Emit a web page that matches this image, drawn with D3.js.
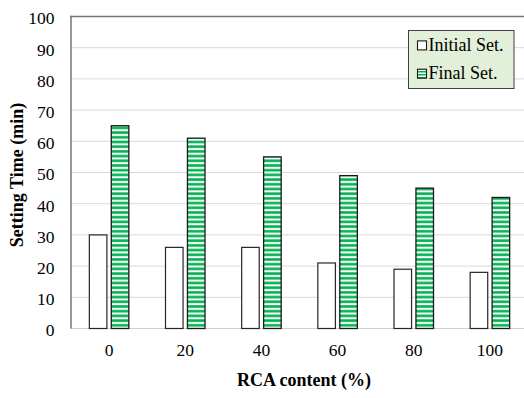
<!DOCTYPE html>
<html><head><meta charset="utf-8">
<script src="https://cdn.jsdelivr.net/npm/d3@7"></script>
<style>html,body{margin:0;padding:0;background:#fff;overflow:hidden}</style>
</head><body>
<svg id="c" width="524" height="398"></svg>
<script>
const categories = ["0","20","40","60","80","100"];
const initialSet = [30,26,26,21,19,18];
const finalSet = [65,61,55,49,45,42];
const yTicks = [0,10,20,30,40,50,60,70,80,90,100];
const seriesNames = ["Initial Set.","Final Set."];

const svg = d3.select("#c");
const L = 71, R = 528, T = 16.5, B = 328.5;
const font = "Liberation Serif, Times New Roman, serif";

const defs = svg.append("defs");
const pat = defs.append("pattern").attr("id","stripe").attr("patternUnits","userSpaceOnUse")
  .attr("width",8).attr("height",4.7).attr("y",B);
pat.append("rect").attr("width",8).attr("height",4.7).attr("fill","#ffffff");
pat.append("rect").attr("width",8).attr("y",0).attr("height",3).attr("fill","#7fd8a5");
pat.append("rect").attr("width",8).attr("y",0.4).attr("height",2.2).attr("fill","#00b050");
const patL = defs.append("pattern").attr("id","stripeL").attr("patternUnits","userSpaceOnUse")
  .attr("width",8).attr("height",3).attr("y",41);
patL.append("rect").attr("width",8).attr("height",3).attr("fill","#ffffff");
patL.append("rect").attr("width",8).attr("height",1.5).attr("fill","#00b050");

const x = d3.scaleBand().domain(categories).range([L,R]).padding(0);
const gw = 39.5;
const xs = d3.scaleBand().domain(seriesNames)
  .range([(x.bandwidth()-gw)/2,(x.bandwidth()+gw)/2]).paddingInner(0.2);
const y = d3.scaleLinear().domain([0,100]).range([B,T]);

// gridlines
svg.append("g").selectAll("line").data(yTicks.filter(d=>d>0 && d<100)).join("line")
  .attr("x1",L).attr("x2",524).attr("y1",d=>y(d)).attr("y2",d=>y(d))
  .attr("stroke","#d9d9d9").attr("stroke-width",1);
// bottom line
svg.append("line").attr("x1",L).attr("x2",524).attr("y1",y(0)).attr("y2",y(0))
  .attr("stroke","#d0d0d0").attr("stroke-width",1.2);
// top border
svg.append("line").attr("x1",L-1).attr("x2",524).attr("y1",y(100)).attr("y2",y(100))
  .attr("stroke","#767676").attr("stroke-width",1.5);

// bars
const data = categories.map((c,i)=>({c, vals:[initialSet[i], finalSet[i]]}));
const g = svg.append("g");
data.forEach(d=>{
  g.append("rect").attr("x",x(d.c)+xs(seriesNames[0])).attr("width",xs.bandwidth())
    .attr("y",y(d.vals[0])).attr("height",y(0)-y(d.vals[0]))
    .attr("fill","#fff").attr("stroke","#262626").attr("stroke-width",1.2);
  g.append("rect").attr("x",x(d.c)+xs(seriesNames[1])).attr("width",xs.bandwidth())
    .attr("y",y(d.vals[1])).attr("height",y(0)-y(d.vals[1]))
    .attr("fill","url(#stripe)").attr("stroke","#1a1a1a").attr("stroke-width",1.3);
});

// left axis line
svg.append("line").attr("x1",L).attr("x2",L).attr("y1",T-0.7).attr("y2",B)
  .attr("stroke","#767676").attr("stroke-width",1.5);

// y axis labels
const ya = svg.append("g").attr("transform",`translate(${L},0)`)
  .call(d3.axisLeft(y).tickValues(yTicks).tickSize(0).tickPadding(16.5));
ya.select(".domain").remove();
ya.attr("font-family",font).attr("font-size",17.5);
ya.selectAll("text").attr("fill","#000").attr("dy","0.42em");

// x axis labels
const xa = svg.append("g").attr("transform",`translate(0,${B})`)
  .call(d3.axisBottom(x).tickSize(0).tickPadding(0));
xa.select(".domain").remove();
xa.attr("font-family",font).attr("font-size",17.5);
xa.selectAll("text").attr("fill","#000").attr("dy",null).attr("y",27.5);

// titles
svg.append("text").attr("x",304).attr("y",386).attr("text-anchor","middle")
  .attr("font-family",font).attr("font-weight","bold").attr("font-size",18).text("RCA content (%)");
svg.append("text").attr("transform","translate(22.5,175) rotate(-90)").attr("text-anchor","middle")
  .attr("font-family",font).attr("font-weight","bold").attr("font-size",18).text("Setting Time (min)");

// legend
const lg = svg.append("g");
lg.append("rect").attr("x",408.5).attr("y",30.5).attr("width",105.5).attr("height",58)
  .attr("fill","#e2efd9").attr("stroke","#404040").attr("stroke-width",1);
const fills = ["#fff","url(#stripeL)"];
seriesNames.forEach((s,i)=>{
  const by = 50.7 + i*28.3;
  lg.append("rect").attr("x",417.5).attr("y",by-9.8).attr("width",9).attr("height",9)
    .attr("fill",fills[i]).attr("stroke","#1a1a1a").attr("stroke-width",1.1);
  lg.append("text").attr("x",428.5).attr("y",by).attr("font-family",font).attr("font-size",18)
    .attr("fill","#000").text(s);
});
</script>
</body></html>
